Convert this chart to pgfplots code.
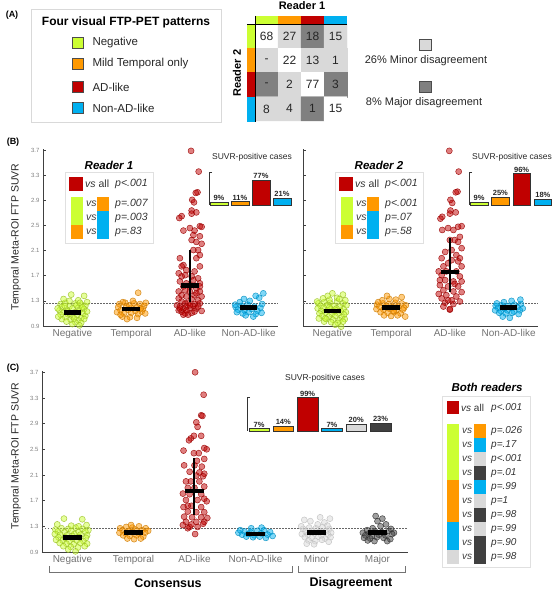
\documentclass[border=0pt]{standalone}
\usepackage{pgfplots}
\pgfplotsset{compat=1.18}
\usepackage{fontspec}
\setmainfont{Liberation Sans}
\definecolor{cg}{RGB}{204,255,51}
\definecolor{co}{RGB}{255,153,0}
\definecolor{cr}{RGB}{192,0,0}
\definecolor{cb}{RGB}{0,176,240}
\definecolor{clg}{RGB}{217,217,217}
\definecolor{cdg}{RGB}{64,64,64}
\definecolor{cmg}{RGB}{128,128,128}
\newcommand{\fs}[1]{\fontsize{#1}{#1}\selectfont}
\pgfplotsset{
 /pgf/number format/assume math mode=true,
 mainax/.style={scale only axis, anchor=south west, axis lines=left, clip marker paths=true,
   axis line style={-, black!75, line width=0.8pt},
   ymin=0.9, ymax=3.72, xmin=0.5,
   ytick={0.9,1.3,1.7,2.1,2.5,2.9,3.3,3.7},
   yticklabels={0.9,1.3,1.7,2.1,2.5,2.9,3.3,3.7},
   tick align=inside, major tick length=3pt,
   ytick style={black!75, line width=0.6pt}, xtick style={draw=none},
   yticklabel style={font=\fs{6}, text=black!50},
   xticklabel style={font=\fs{10}, text=black!55},
   clip=false},
 sc/.style 2 args={only marks, mark=*, mark size=3pt,
   mark options={fill=#1, fill opacity=0.5, draw=#2, draw opacity=0.85, line width=0.5pt}},
 meanbar/.style={black, line width=4.8pt},
 sdbar/.style={black, line width=2pt},
 thr/.style={black!60, dash pattern=on 1.5pt off 1.5pt, line width=0.6pt},
 inset/.style={scale only axis, anchor=south west, hide axis, clip=false, ymin=0,
   ybar, bar shift=0pt,
   nodes near coords={\pgfmathprintnumber{\pgfplotspointmeta}\%},
   every node near coord/.append style={font=\bfseries\fs{7.5}, inner sep=1pt, text=black!85}},
}
\newcommand{\prow}[5]{%
  \fill[#3] ({#1+71},{#2-6.8}) rectangle ({#1+83},{#2+6.8});
  \node[anchor=west, font=\fs{10.5}\itshape, inner sep=0pt, text=black!75] at ({#1+86},#2) {vs};
  \fill[#4] ({#1+97},{#2-6.8}) rectangle ({#1+109},{#2+6.8});
  \node[anchor=west, font=\fs{10.5}\itshape, inner sep=0pt, text=black!80] at ({#1+115},#2) {#5};
}
\newcommand{\brow}[4]{%
  \fill[#2] (447,{#1-6.6}) rectangle (459,{#1+6.6});
  \node[anchor=west, font=\fs{10}\itshape, inner sep=0pt, text=black!75] at (462,#1) {vs};
  \fill[#3] (474,{#1-6.6}) rectangle (486,{#1+6.6});
  \node[anchor=west, font=\fs{10}\itshape, inner sep=0pt, text=black!80] at (491,#1) {#4};
}
\begin{document}
\begin{tikzpicture}[x=1pt,y=1pt]
\useasboundingbox (0,0) rectangle (554,592);

%================= (A) =================
\node[font=\bfseries\fs{9}] at (12,577) {(A)};
\draw[black!15, line width=0.8pt] (31,470) rectangle (221,583);
\node[font=\bfseries\fs{12}] at (126,570) {Four visual FTP-PET patterns};
\foreach \yy/\cc/\tt in {549/cg/Negative, 528/co/Mild Temporal only, 505/cr/AD-like, 484/cb/Non-AD-like}{
  \filldraw[fill=\cc, draw=black!70, line width=0.6pt] (72,\yy-5.5) rectangle (83,\yy+5.5);
  \node[anchor=west, font=\fs{11.5}, text=black!85] at (89,\yy) {\tt};
}

\begin{axis}[at={(255pt,471pt)}, anchor=south west, scale only axis, width=92pt, height=97pt,
  xmin=0.5, xmax=4.5, ymin=0.5, ymax=4.5, y dir=reverse, hide axis, clip=false,
  colormap={mx}{rgb255=(255,255,255) rgb255=(217,217,217) rgb255=(128,128,128)},
  point meta min=0, point meta max=2]
\addplot[matrix plot*, mesh/cols=4, point meta=explicit] table[meta=c] {
x y c
1 1 0
2 1 1
3 1 2
4 1 1
1 2 1
2 2 0
3 2 1
4 2 1
1 3 2
2 3 1
3 3 0
4 3 2
1 4 1
2 4 1
3 4 2
4 4 0
};
\end{axis}
\foreach \cx/\cy/\lab in {1/1/68,2/1/27,3/1/18,4/1/15,1/2/-,2/2/22,3/2/13,4/2/1,1/3/-,2/3/2,3/3/77,4/3/3,1/4/8,2/4/4,3/4/1,4/4/15}{
  \node[font=\fs{12}, text=black!85] at ({255+23*(\cx-0.5)},{568-24.25*(\cy-0.5)}) {\lab};
}
% colour strips
\fill[cg] (256,568) rectangle (278,576);
\fill[co] (278,568) rectangle (301,576);
\fill[cr] (301,568) rectangle (324,576);
\fill[cb] (324,568) rectangle (347,576);
\fill[cg] (247,568) rectangle (255,544);
\fill[co] (247,544) rectangle (255,520);
\fill[cr] (247,520) rectangle (255,495);
\fill[cb] (247,495) rectangle (255,470);
\draw[black, line width=0.9pt] (255.5,576) -- (255.5,470);
\draw[black, line width=0.9pt] (247,568) -- (347,568);
\node[font=\bfseries\fs{11}] at (302,586) {Reader 1};
\node[font=\bfseries\fs{11}, rotate=90] at (237,519) {Reader 2};
\filldraw[fill=clg, draw=black!70, line width=0.6pt] (419,542) rectangle (431,553);
\node[font=\fs{11}, text=black!85] at (426,531.5) {26\% Minor disagreement};
\filldraw[fill=cmg, draw=black!70, line width=0.6pt] (419,499.5) rectangle (431,510.5);
\node[font=\fs{11}, text=black!85] at (424,489) {8\% Major disagreement};

%================= (B) =================
\node[font=\bfseries\fs{9}] at (13,450) {(B)};
\node[rotate=90, font=\fs{10.5}, text=black!85] at (16,355) {Temporal Meta-ROI FTP SUVR};

% ---- Reader 1 ----
\begin{axis}[mainax, at={(43pt,266pt)}, width=235pt, height=177pt, xmax=4.5,
  xtick={1,2,3,4}, xticklabels={Negative,Temporal,AD-like,Non-AD-like}]
\addplot[thr] coordinates {(0.5,1.26) (4.5,1.26)};
\addplot[sc={cg}{cg!75!black}] table {
x y
0.80 1.25
0.88 1.27
1.05 1.26
1.15 1.24
1.22 1.22
0.82 1.20
0.95 1.21
1.10 1.19
1.20 1.17
0.78 1.15
0.90 1.16
1.00 1.18
1.12 1.14
0.85 1.12
1.05 1.12
1.18 1.10
0.80 1.08
0.92 1.09
1.08 1.07
1.22 1.06
0.88 1.04
1.00 1.05
1.15 1.03
0.82 1.01
0.97 1.00
1.10 0.99
1.20 1.01
0.90 0.97
1.05 0.96
1.15 0.95
1.00 0.93
1.12 0.91
0.95 1.30
1.10 1.31
0.85 1.33
0.98 1.40
1.20 1.38
1.25 1.28
0.75 1.18
1.25 1.13
0.76 1.05
1.07 1.23
0.92 1.13
1.13 1.27
0.96 1.10
1.03 1.02
0.87 1.22
1.17 1.20
};
\addplot[sc={co}{co!80!black}] table {
x y
1.80 1.25
1.90 1.27
2.05 1.26
2.15 1.25
2.22 1.22
1.78 1.20
1.92 1.21
2.00 1.19
2.10 1.20
2.20 1.17
1.82 1.15
1.95 1.16
2.07 1.14
2.18 1.13
1.76 1.12
1.88 1.10
2.00 1.11
2.12 1.09
2.24 1.10
1.85 1.05
1.98 1.04
2.10 1.03
1.93 1.01
2.03 1.30
2.12 1.43
1.86 1.28
2.25 1.27
1.97 1.23
2.16 1.18
1.82 1.08
};
\addplot[sc={cr}{cr!80!black}] table {
x y
3.02 3.69
3.15 3.36
3.13 3.03
3.10 3.02
3.04 2.91
3.07 2.87
2.86 2.65
2.82 2.62
3.03 2.74
3.03 2.69
3.11 2.71
3.17 2.49
3.20 2.48
2.89 2.42
3.00 2.46
3.08 2.42
3.06 2.35
3.17 2.33
3.03 2.27
3.11 2.24
3.20 2.21
3.14 2.11
3.06 2.11
3.17 2.03
2.83 1.98
3.11 1.98
3.17 1.85
2.89 1.87
2.94 1.79
3.08 1.77
2.81 1.74
2.86 1.69
2.92 1.71
3.03 1.69
3.14 1.66
2.83 1.61
2.94 1.58
3.17 1.58
2.89 1.53
3.11 1.50
2.81 1.45
3.00 1.45
3.17 1.45
2.86 1.39
2.94 1.37
3.08 1.39
3.20 1.37
2.81 1.34
3.03 1.33
3.14 1.31
2.86 1.29
2.92 1.26
2.97 1.27
3.08 1.25
3.17 1.26
2.78 1.23
2.83 1.21
2.89 1.18
2.94 1.21
3.00 1.18
3.06 1.22
3.11 1.18
3.20 1.14
2.81 1.15
2.86 1.13
2.92 1.10
2.97 1.08
3.03 1.11
3.08 1.13
2.89 1.08
2.94 1.15
2.83 1.18
3.00 1.23
3.14 1.21
2.86 1.85
3.00 1.53
3.06 1.63
2.92 1.47
3.11 1.42
3.17 1.53
};
\addplot[sc={cb}{cb!80!black}] table {
x y
3.78 1.20
3.88 1.22
3.98 1.24
4.10 1.21
4.20 1.19
3.82 1.16
3.93 1.15
4.05 1.17
4.15 1.14
3.80 1.12
3.90 1.10
4.00 1.12
4.12 1.09
4.22 1.11
3.95 1.07
4.08 1.05
3.85 1.28
4.02 1.30
4.18 1.35
4.25 1.42
4.12 1.38
3.92 1.33
4.23 1.25
3.77 1.24
};
\addplot[sdbar] coordinates {(1,1.09) (1,1.16)};
\addplot[meanbar] coordinates {(0.85,1.12) (1.15,1.12)};
\addplot[sdbar] coordinates {(2,1.15) (2,1.19)};
\addplot[meanbar] coordinates {(1.85,1.17) (2.15,1.17)};
\addplot[sdbar] coordinates {(3,1.28) (3,2.11)};
\addplot[meanbar] coordinates {(2.85,1.55) (3.15,1.55)};
\addplot[sdbar] coordinates {(4,1.17) (4,1.21)};
\addplot[meanbar] coordinates {(3.85,1.19) (4.15,1.19)};
\end{axis}

% ---- Reader 2 ----
\begin{axis}[mainax, at={(303pt,266pt)}, width=235pt, height=177pt, xmax=4.5,
  yticklabels={}, xtick={1,2,3,4}, xticklabels={Negative,Temporal,AD-like,Non-AD-like}]
\addplot[thr] coordinates {(0.5,1.26) (4.5,1.26)};
\addplot[sc={cg}{cg!75!black}] table {
x y
0.76 1.26
0.86 1.28
0.96 1.27
1.08 1.29
1.18 1.26
1.24 1.23
0.80 1.22
0.91 1.23
1.02 1.22
1.13 1.21
0.75 1.18
0.85 1.19
0.97 1.17
1.07 1.18
1.19 1.17
0.81 1.14
0.92 1.15
1.03 1.13
1.14 1.14
1.23 1.12
0.78 1.10
0.88 1.11
0.99 1.09
1.10 1.10
1.20 1.08
0.83 1.06
0.94 1.05
1.05 1.06
1.16 1.04
0.77 1.02
0.90 1.01
1.01 1.00
1.12 0.99
1.21 1.01
0.86 0.97
0.98 0.96
1.09 0.95
1.18 0.97
1.05 0.92
1.15 0.89
0.95 1.32
1.08 1.35
0.84 1.34
1.00 1.42
1.18 1.40
1.22 1.31
0.92 1.38
1.12 1.33
0.74 1.29
0.88 1.02
1.04 1.16
0.95 1.20
};
\addplot[sc={co}{co!80!black}] table {
x y
1.76 1.24
1.86 1.26
1.96 1.25
2.07 1.27
2.18 1.26
2.25 1.23
1.80 1.21
1.92 1.22
2.02 1.20
2.12 1.21
2.22 1.19
1.75 1.17
1.87 1.16
1.98 1.17
2.09 1.15
2.20 1.16
1.82 1.12
1.94 1.11
2.05 1.12
2.16 1.10
1.88 1.07
2.00 1.06
2.11 1.07
2.24 1.05
1.85 1.31
1.97 1.33
2.08 1.32
2.18 1.36
1.93 1.38
2.04 1.14
1.78 1.28
};
\addplot[sc={cr}{cr!80!black}] table {
x y
2.99 3.69
3.15 3.36
3.13 3.04
3.10 3.03
3.01 2.91
3.04 2.86
2.87 2.64
2.84 2.61
3.01 2.74
3.00 2.69
3.10 2.71
3.20 2.49
3.14 2.48
2.87 2.43
2.97 2.46
3.06 2.43
3.17 2.32
3.08 2.27
3.14 2.24
3.20 2.14
3.03 2.11
3.11 2.03
2.86 1.98
3.17 1.98
2.89 1.85
3.20 1.85
2.81 1.77
2.94 1.77
3.11 1.77
2.86 1.71
3.17 1.69
2.92 1.63
3.06 1.61
3.20 1.61
2.83 1.55
2.97 1.53
3.14 1.53
2.89 1.47
3.06 1.45
3.20 1.44
2.81 1.41
2.94 1.39
3.11 1.37
2.86 1.34
3.03 1.31
3.17 1.29
2.92 1.27
3.00 1.16
3.06 1.25
2.89 1.21
2.97 1.31
3.00 1.17
3.00 2.27
2.92 2.08
3.03 1.95
2.97 1.90
3.08 1.57
2.83 1.63
3.14 1.93
};
\addplot[sc={cb}{cb!80!black}] table {
x y
3.78 1.22
3.88 1.23
3.99 1.22
4.10 1.24
4.21 1.25
3.82 1.19
3.93 1.18
4.04 1.19
4.15 1.20
4.24 1.18
3.77 1.15
3.87 1.14
3.98 1.15
4.09 1.13
4.19 1.15
3.84 1.11
3.95 1.10
4.06 1.11
4.17 1.09
3.90 1.05
4.02 1.03
3.92 1.28
4.05 1.30
4.20 1.32
3.80 1.26
};
\addplot[sdbar] coordinates {(1,1.11) (1,1.17)};
\addplot[meanbar] coordinates {(0.85,1.14) (1.15,1.14)};
\addplot[sdbar] coordinates {(2,1.18) (2,1.22)};
\addplot[meanbar] coordinates {(1.85,1.20) (2.15,1.20)};
\addplot[sdbar] coordinates {(3,1.44) (3,2.30)};
\addplot[meanbar] coordinates {(2.85,1.76) (3.15,1.76)};
\addplot[sdbar] coordinates {(4,1.17) (4,1.21)};
\addplot[meanbar] coordinates {(3.85,1.19) (4.15,1.19)};
\end{axis}

% ---- Reader legends ----
\foreach \dx/\rt/\pa/\pb/\pc in {0/Reader 1/p=.007/p=.003/p=.83, 270/Reader 2/p<.001/p=.07/p=.58}{
  \node[font=\bfseries\itshape\fs{11.5}] at ({109+\dx},427) {\rt};
  \draw[black!12, line width=0.8pt] ({65+\dx},349) rectangle ({153+\dx},420);
  \fill[cr] ({69+\dx},401) rectangle ({83+\dx},415);
  \node[anchor=west, font=\fs{10.5}, inner sep=0pt, text=black!80] at ({85+\dx},408) {\textit{vs} all};
  \node[anchor=west, font=\fs{10.5}\itshape, inner sep=0pt, text=black!80] at ({115+\dx},408) {p<.001};
  \prow{\dx}{388}{cg}{co}{\pa}
  \prow{\dx}{374}{cg}{cb}{\pb}
  \prow{\dx}{360}{co}{cb}{\pc}
}

% ---- insets B ----
\node[font=\fs{8.5}, text=black!85] at (252,435) {SUVR-positive cases};
\begin{axis}[inset, at={(209pt,387pt)}, width=82pt, height=33pt, xmin=0.524, xmax=4.43, ymax=101, bar width=18pt]
\addplot[fill=cg, draw=black!80, line width=0.5pt] coordinates {(1,9)};
\addplot[fill=co, draw=black!80, line width=0.5pt] coordinates {(2,11)};
\addplot[fill=cr, draw=black!80, line width=0.5pt] coordinates {(3,77)};
\addplot[fill=cb, draw=black!80, line width=0.5pt] coordinates {(4,21)};
\draw[black!80, line width=0.6pt] ([xshift=3pt]axis description cs:0,1) -- (axis description cs:0,1) -- (axis description cs:0,0);
\end{axis}
\node[font=\fs{8.5}, text=black!85] at (512,435) {SUVR-positive cases};
\begin{axis}[inset, at={(469pt,387pt)}, width=83pt, height=33pt, xmin=0.524, xmax=4.43, ymax=101, bar width=17.5pt]
\addplot[fill=cg, draw=black!80, line width=0.5pt] coordinates {(1,9)};
\addplot[fill=co, draw=black!80, line width=0.5pt] coordinates {(2,25)};
\addplot[fill=cr, draw=black!80, line width=0.5pt] coordinates {(3,96)};
\addplot[fill=cb, draw=black!80, line width=0.5pt] coordinates {(4,18)};
\draw[black!80, line width=0.6pt] ([xshift=3pt]axis description cs:0,1) -- (axis description cs:0,1) -- (axis description cs:0,0);
\end{axis}

%================= (C) =================
\node[font=\bfseries\fs{9}] at (13,224) {(C)};
\node[rotate=90, font=\fs{10.5}, text=black!85] at (16,136) {Temporal Meta-ROI FTP SUVR};
\begin{axis}[mainax, at={(42pt,40pt)}, width=366pt, height=181pt, xmax=6.5,
  xtick={1,2,3,4,5,6}, xticklabels={Negative,Temporal,AD-like,Non-AD-like,Minor,Major}]
\addplot[thr] coordinates {(0.5,1.27) (6.5,1.27)};
\addplot[sc={cg}{cg!75!black}] table {
x y
0.72 1.25
0.82 1.27
0.93 1.26
1.05 1.28
1.16 1.26
1.26 1.24
0.76 1.22
0.87 1.21
0.98 1.23
1.10 1.21
1.21 1.22
0.71 1.18
0.80 1.17
0.91 1.16
1.03 1.18
1.13 1.17
1.24 1.16
0.77 1.13
0.88 1.12
1.00 1.11
1.11 1.13
1.22 1.12
0.73 1.09
0.84 1.08
0.95 1.07
1.07 1.08
1.18 1.07
0.79 1.04
0.90 1.03
1.02 1.02
1.13 1.04
1.24 1.03
0.85 0.99
0.97 0.98
1.09 0.97
1.20 0.99
0.93 0.94
1.05 0.91
0.98 1.31
1.10 1.30
0.86 1.42
1.16 1.41
0.75 1.33
1.23 1.32
1.00 1.15
};
\addplot[sc={co}{co!80!black}] table {
x y
1.78 1.27
1.88 1.29
1.98 1.28
2.09 1.30
2.20 1.27
1.82 1.24
1.93 1.23
2.03 1.25
2.14 1.24
2.24 1.23
1.77 1.20
1.87 1.19
1.97 1.21
2.08 1.19
2.19 1.20
1.83 1.16
1.94 1.15
2.05 1.16
2.16 1.14
1.90 1.11
2.01 1.10
2.12 1.11
1.96 1.32
};
\addplot[sc={cr}{cr!80!black}] table {
x y
3.01 3.70
3.15 3.35
3.11 3.03
3.13 3.02
3.03 2.92
3.05 2.85
3.11 2.71
2.94 2.67
2.99 2.71
2.91 2.64
3.16 2.52
3.20 2.50
2.82 2.48
2.99 2.44
3.07 2.44
3.16 2.35
3.04 2.32
2.83 2.25
3.12 2.23
3.16 2.12
2.92 2.15
3.03 2.09
3.14 2.08
2.86 2.00
2.94 2.00
3.08 2.00
3.16 1.92
2.89 1.90
3.00 1.90
2.81 1.81
2.92 1.80
3.11 1.80
2.86 1.71
3.05 1.71
3.20 1.69
2.82 1.60
2.95 1.62
3.11 1.60
2.89 1.53
3.03 1.52
3.16 1.52
2.83 1.45
2.96 1.44
3.11 1.44
3.21 1.43
2.86 1.37
3.03 1.37
3.16 1.37
2.81 1.32
2.92 1.29
3.05 1.29
2.89 1.27
3.01 1.18
3.14 1.34
2.95 1.33
3.00 2.25
3.08 2.14
2.89 1.62
3.16 1.73
};
\addplot[sc={cb}{cb!80!black}] table {
x y
3.72 1.20
3.82 1.22
3.92 1.21
4.03 1.23
4.14 1.24
4.24 1.21
3.78 1.17
3.88 1.18
3.98 1.16
4.09 1.19
4.20 1.17
4.28 1.15
3.85 1.14
3.96 1.13
4.07 1.14
4.17 1.12
3.93 1.27
4.10 1.28
3.75 1.24
};
\addplot[sc={clg}{black!25}] table {
x y
4.78 1.26
4.88 1.28
4.99 1.27
5.10 1.29
5.21 1.26
4.82 1.22
4.93 1.23
5.04 1.21
5.15 1.22
5.24 1.20
4.76 1.18
4.86 1.17
4.97 1.19
5.08 1.16
5.19 1.17
4.81 1.13
4.92 1.12
5.03 1.14
5.14 1.11
5.23 1.13
4.87 1.08
4.98 1.07
5.09 1.09
5.20 1.06
4.84 1.03
4.96 1.02
5.02 1.33
5.13 1.36
4.90 1.38
5.06 1.44
4.80 1.40
5.18 1.31
4.75 1.30
5.22 1.42
};
\addplot[sc={cdg}{black!80}] table {
x y
5.76 1.20
5.86 1.19
5.96 1.22
6.07 1.21
6.18 1.23
6.27 1.20
5.80 1.16
5.91 1.15
6.02 1.17
6.13 1.16
6.24 1.18
5.78 1.12
5.88 1.11
5.99 1.13
6.10 1.12
6.21 1.10
5.84 1.08
5.95 1.07
6.16 1.07
5.92 1.27
6.05 1.30
6.14 1.33
6.00 1.38
5.97 1.46
6.08 1.42
5.83 1.24
6.22 1.26
};
\addplot[sdbar] coordinates {(1,1.10) (1,1.17)};
\addplot[meanbar] coordinates {(0.84,1.13) (1.16,1.13)};
\addplot[sdbar] coordinates {(2,1.19) (2,1.23)};
\addplot[meanbar] coordinates {(1.84,1.21) (2.16,1.21)};
\addplot[sdbar] coordinates {(3,1.48) (3,2.36)};
\addplot[meanbar] coordinates {(2.84,1.85) (3.16,1.85)};
\addplot[sdbar] coordinates {(4,1.16) (4,1.20)};
\addplot[meanbar] coordinates {(3.84,1.18) (4.16,1.18)};
\addplot[sdbar] coordinates {(5,1.17) (5,1.23)};
\addplot[meanbar] coordinates {(4.84,1.20) (5.16,1.20)};
\addplot[sdbar] coordinates {(6,1.17) (6,1.25)};
\addplot[meanbar] coordinates {(5.84,1.21) (6.16,1.21)};
\end{axis}

\node[font=\fs{8.5}, text=black!85] at (325,214) {SUVR-positive cases};
\begin{axis}[inset, at={(247pt,161pt)}, width=144pt, height=34pt, xmin=0.506, xmax=6.43, ymax=101, bar width=20.5pt]
\addplot[fill=cg, draw=black!80, line width=0.5pt] coordinates {(1,7)};
\addplot[fill=co, draw=black!80, line width=0.5pt] coordinates {(2,14)};
\addplot[fill=cr, draw=black!80, line width=0.5pt] coordinates {(3,99)};
\addplot[fill=cb, draw=black!80, line width=0.5pt] coordinates {(4,7)};
\addplot[fill=clg, draw=black!80, line width=0.5pt] coordinates {(5,20)};
\addplot[fill=cdg, draw=black!80, line width=0.5pt] coordinates {(6,23)};
\draw[black!80, line width=0.6pt] ([xshift=3pt]axis description cs:0,1) -- (axis description cs:0,1) -- (axis description cs:0,0);
\end{axis}

% brackets and group labels
\draw[black!55, line width=0.7pt] (49,26) -- (49,20) -- (292,20) -- (292,26);
\draw[black!55, line width=0.7pt] (298,26) -- (298,20) -- (405,20) -- (405,26);
\node[font=\bfseries\fs{12.5}] at (168,9) {Consensus};
\node[font=\bfseries\fs{12.5}] at (351,9) {Disagreement};

% Both readers legend
\node[font=\bfseries\itshape\fs{11.5}] at (487,205) {Both readers};
\draw[black!12, line width=0.8pt] (442,25) rectangle (530,196);
\fill[cr] (447,177.5) rectangle (459,190.5);
\node[anchor=west, font=\fs{10}, inner sep=0pt, text=black!80] at (461,184) {\textit{vs} all};
\node[anchor=west, font=\fs{10}\itshape, inner sep=0pt, text=black!80] at (491,184) {p<.001};
\brow{161}{cg}{co}{p=.026}
\brow{147}{cg}{cb}{p=.17}
\brow{133}{cg}{clg}{p<.001}
\brow{119}{cg}{cdg}{p=.01}
\brow{105}{co}{cb}{p=.99}
\brow{91}{co}{clg}{p=1}
\brow{77}{co}{cdg}{p=.98}
\brow{63}{cb}{clg}{p=.99}
\brow{49}{cb}{cdg}{p=.90}
\brow{35}{clg}{cdg}{p=.98}
\end{tikzpicture}
\end{document}
